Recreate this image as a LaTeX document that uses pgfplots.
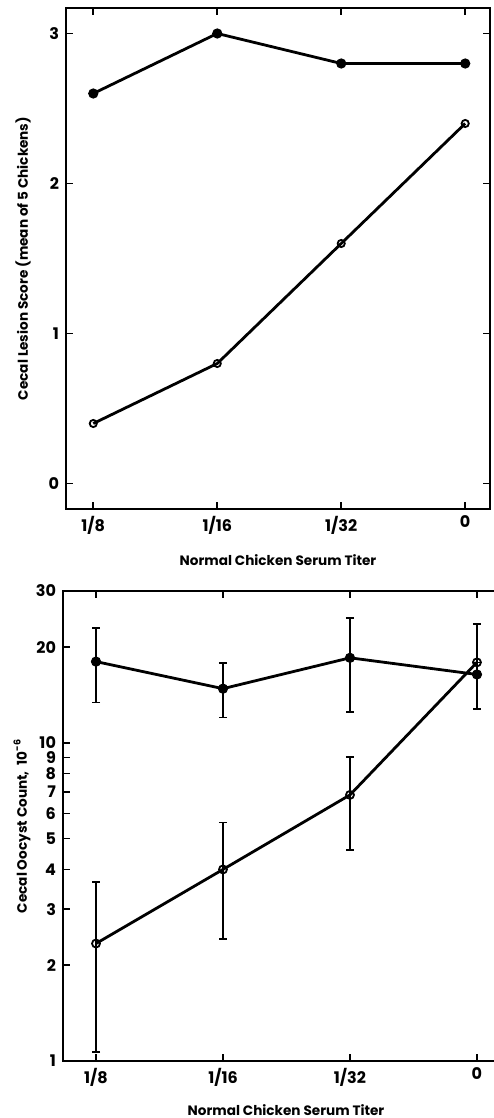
\documentclass[border=0pt]{standalone}
\usepackage{pgfplots}
\pgfplotsset{compat=1.18}
\usepackage{fontspec}
\setmainfont{Poppins}
\newcommand\heavy{\bfseries}
\begin{document}
\begin{tikzpicture}
\useasboundingbox (0,0) rectangle (246.5pt,-559pt);
% ---------- top panel ----------
\begin{axis}[
  at={(33pt,-4pt)}, anchor=north west,
  scale only axis, width=212pt, height=250.5pt,
  xmin=-0.22, xmax=3.2, ymin=-0.17, ymax=3.17,
  xtick={0,1,2,3}, xticklabels={1/8,1/16,1/32,0},
  ytick={0,1,2,3}, yticklabels={0,1,2,3},
  tick align=inside, tick pos=both, major tick length=3.5pt,
  axis line style={line width=1pt}, tick style={line width=0.8pt,black},
  tick label style={font=\heavy\fontsize{8}{10}\selectfont},
  /pgf/number format/assume math mode=true,
  xlabel={Normal Chicken Serum Titer},
  ylabel={Cecal Lesion Score (mean of 5 Chickens)},
  label style={font=\heavy\fontsize{6.8}{9}\selectfont},
  xlabel style={at={(axis description cs:0.5,-0.102)}, anchor=center},
  ylabel style={at={(axis description cs:-0.101,0.5)}, anchor=center},
  clip=false,
]
\addplot[black, line width=1.4pt, mark=*, mark size=2.3pt, mark options={fill=black, line width=0.5pt}]
  coordinates {(0,2.6) (1,3.0) (2,2.8) (3,2.8)};
\addplot[black, line width=1.4pt, mark=o, mark size=1.8pt, mark options={fill=white, line width=0.9pt}]
  coordinates {(0,0.4) (1,0.8) (2,1.6) (3,2.4)};
\end{axis}
% ---------- bottom panel ----------
\begin{axis}[
  at={(31.5pt,-295.5pt)}, anchor=north west,
  scale only axis, width=216.5pt, height=235pt,
  ymode=log,
  xmin=-0.26, xmax=3.15, ymin=1, ymax=30,
  xtick={0,1,2,3}, xticklabels={1/8,1/16,1/32,0},
  ytick={1,2,3,4,5,6,7,8,9,10,20,30},
  yticklabels={1,2,3,4,5,6,7,8,9,10,20,30},
  minor ytick={},
  tick align=inside, xtick pos=both, ytick pos=left, major tick length=3.5pt,
  axis line style={line width=1pt}, tick style={line width=0.8pt,black},
  tick label style={font=\heavy\fontsize{8}{10}\selectfont},
  /pgf/number format/assume math mode=true,
  xlabel={Normal Chicken Serum Titer},
  ylabel={Cecal Oocyst Count,\ \ 10\textsuperscript{-6}},
  label style={font=\heavy\fontsize{6.8}{9}\selectfont},
  xlabel style={at={(axis description cs:0.515,-0.104)}, anchor=center},
  ylabel style={at={(axis description cs:-0.0947,0.5)}, anchor=center},
  clip=false,
]
\addplot[black, line width=1.4pt, mark=*, mark size=2.3pt, mark options={fill=black, line width=0.5pt},
  error bars/.cd, y dir=both, y explicit,
  error bar style={line width=0.85pt},
  error mark options={rotate=90, mark size=2pt, line width=0.85pt}]
  table[x=x, y=y, y error plus=ep, y error minus=em] {
  x y ep em
  0 18.0 5.0 4.6
  1 14.8 3.05 2.8
  2 18.5 6.2 6.0
  3 16.4 7.2 3.64
};
\addplot[black, line width=1.4pt, mark=o, mark size=2pt, mark options={fill=white, line width=0.9pt},
  error bars/.cd, y dir=both, y explicit,
  error bar style={line width=0.85pt},
  error mark options={rotate=90, mark size=2pt, line width=0.85pt}]
  table[x=x, y=y, y error plus=ep, y error minus=em] {
  x y ep em
  0 2.34 1.32 1.27
  1 4.0 1.62 1.58
  2 6.86 2.16 2.25
  3 17.9 0 0
};
\end{axis}
\end{tikzpicture}
\end{document}
